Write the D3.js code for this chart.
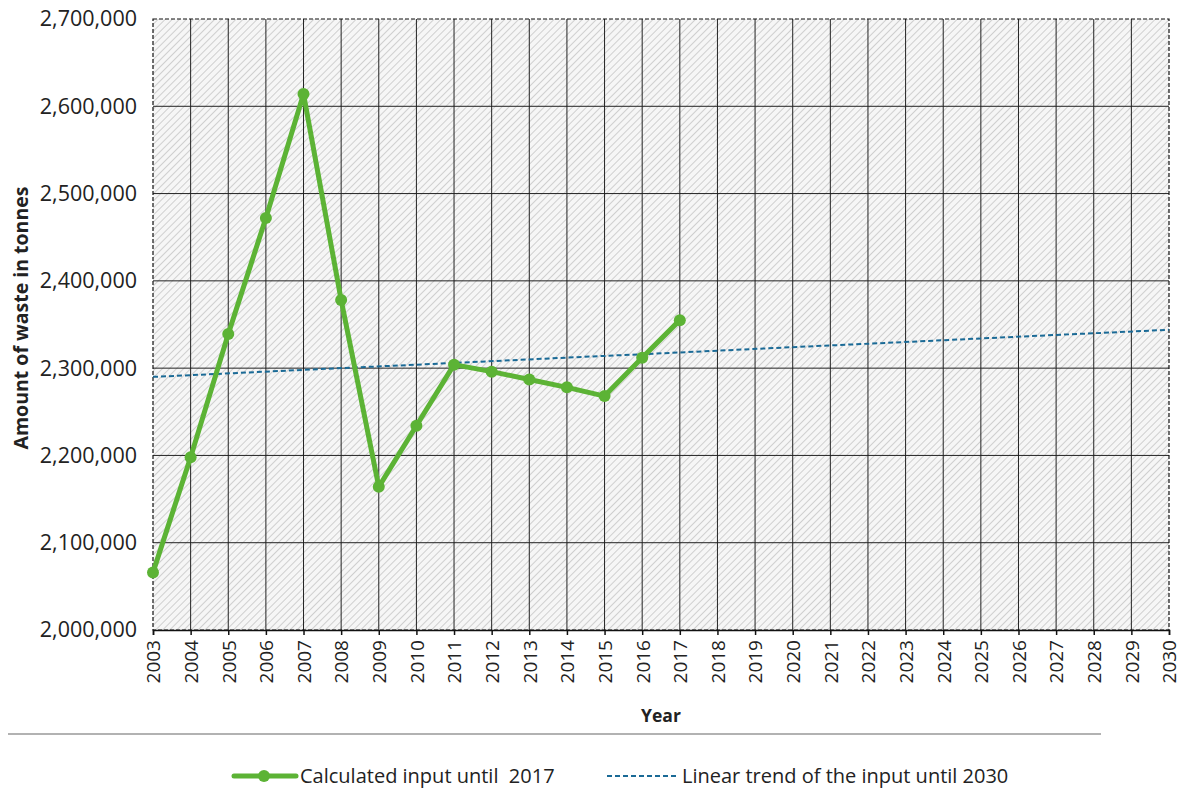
<!DOCTYPE html>
<html>
<head>
<meta charset="utf-8">
<script src="https://cdn.jsdelivr.net/npm/d3@7"></script>
<style>
  body { margin: 0; background: #fff; }
  text { font-family: "Open Sans", "Noto Sans", sans-serif; fill: #222; white-space: pre; }
</style>
</head>
<body>
<svg id="chart" width="1183" height="789"></svg>
<script>
// ---- DATA ----
const years = d3.range(2003, 2031);
const inputYears = [2003, 2004, 2005, 2006, 2007, 2008, 2009, 2010, 2011, 2012, 2013, 2014, 2015, 2016, 2017];
const inputValues = [2066000, 2198000, 2339000, 2472000, 2614000, 2378000, 2164000, 2234000, 2304000, 2296000, 2287000, 2278000, 2268000, 2312000, 2355000];
const trendYears = [2003, 2030];
const trendValues = [2290000, 2344000];
const yTicks = [2000000, 2100000, 2200000, 2300000, 2400000, 2500000, 2600000, 2700000];
const legendLabels = ['Calculated input until  2017', 'Linear trend of the input until 2030'];

const svg = d3.select('#chart');
const L = 153, R = 1169, T = 19, B = 630;

const x = d3.scaleLinear().domain([2003, 2030]).range([L, R]);
const y = d3.scaleLinear().domain([2000000, 2700000]).range([B, T]);

// hatch pattern
const defs = svg.append('defs');
const pat = defs.append('pattern')
  .attr('id', 'hatch').attr('patternUnits', 'userSpaceOnUse')
  .attr('width', 5).attr('height', 5)
  .attr('patternTransform', 'rotate(45)');
pat.append('rect').attr('width', 5).attr('height', 5).attr('fill', '#f6f6f6');
pat.append('line').attr('x1', 0).attr('y1', 0).attr('x2', 0).attr('y2', 5)
  .attr('stroke', '#cfcfcf').attr('stroke-width', 2);

svg.append('rect').attr('x', L).attr('y', T).attr('width', R - L).attr('height', B - T)
  .attr('fill', 'url(#hatch)');

// grid
svg.append('g').selectAll('line').data(years.slice(1, -1)).join('line')
  .attr('x1', d => x(d)).attr('x2', d => x(d)).attr('y1', T).attr('y2', B)
  .attr('stroke', '#222').attr('stroke-width', 1);
svg.append('g').selectAll('line').data(yTicks.slice(1, -1)).join('line')
  .attr('x1', L).attr('x2', R).attr('y1', d => y(d)).attr('y2', d => y(d))
  .attr('stroke', '#222').attr('stroke-width', 1);

// dashed border
svg.append('rect').attr('x', L).attr('y', T).attr('width', R - L).attr('height', B - T)
  .attr('fill', 'none').attr('stroke', '#111').attr('stroke-width', 1.2)
  .attr('stroke-dasharray', '4,2');

// x axis
const xAxis = svg.append('g').attr('transform', `translate(0,${B})`)
  .call(d3.axisBottom(x).tickValues(years).tickFormat(d3.format('d')).tickSize(5).tickPadding(4));
xAxis.select('.domain').attr('stroke', '#111').attr('stroke-width', 1.5);
xAxis.selectAll('.tick line').attr('stroke', '#111').attr('stroke-width', 1.5);
xAxis.selectAll('.tick text')
  .attr('font-size', 19).attr('fill', '#222')
  .attr('transform', 'rotate(-90)')
  .attr('text-anchor', 'end').attr('dy', '0.36em').attr('x', -10).attr('y', 0);

// y axis
const yAxis = svg.append('g').attr('transform', `translate(${L},0)`)
  .call(d3.axisLeft(y).tickValues(yTicks).tickFormat(d3.format(',')).tickSize(0).tickPadding(16));
yAxis.select('.domain').remove();
yAxis.selectAll('.tick text').attr('font-size', 21.5).attr('fill', '#222');

// titles
svg.append('text').attr('transform', `translate(28,318) rotate(-90)`)
  .attr('text-anchor', 'middle').attr('font-size', 19.5).attr('font-weight', 'bold')
  .text('Amount of waste in tonnes');
svg.append('text').attr('x', 661).attr('y', 722).attr('text-anchor', 'middle')
  .attr('font-size', 17.5).attr('font-weight', 'bold').text('Year');

// separator
svg.append('line').attr('x1', 8).attr('x2', 1101).attr('y1', 734).attr('y2', 734)
  .attr('stroke', '#666').attr('stroke-width', 1.2);

// trend line
const trend = trendYears.map((d, i) => [d, trendValues[i]]);
svg.append('path').datum(trend)
  .attr('d', d3.line().x(d => x(d[0])).y(d => y(d[1])))
  .attr('fill', 'none').attr('stroke', '#1a6a96').attr('stroke-width', 2)
  .attr('stroke-dasharray', '5,3');

// input line
const green = '#5cb335';
const input = inputYears.map((d, i) => [d, inputValues[i]]);
svg.append('path').datum(input)
  .attr('d', d3.line().x(d => x(d[0])).y(d => y(d[1])))
  .attr('fill', 'none').attr('stroke', green).attr('stroke-width', 5)
  .attr('stroke-linejoin', 'round');
svg.append('g').selectAll('circle').data(input).join('circle')
  .attr('cx', d => x(d[0])).attr('cy', d => y(d[1])).attr('r', 6).attr('fill', green);

// legend
const lg = svg.append('g');
lg.append('line').attr('x1', 234).attr('x2', 296).attr('y1', 776).attr('y2', 776)
  .attr('stroke', green).attr('stroke-width', 5).attr('stroke-linecap', 'round');
lg.append('circle').attr('cx', 264).attr('cy', 776).attr('r', 6).attr('fill', green);
lg.append('text').attr('x', 300).attr('y', 783).attr('font-size', 20).text(legendLabels[0]);
lg.append('line').attr('x1', 607).attr('x2', 677).attr('y1', 776).attr('y2', 776)
  .attr('stroke', '#1a6a96').attr('stroke-width', 2).attr('stroke-dasharray', '5,3');
lg.append('text').attr('x', 682).attr('y', 783).attr('font-size', 20).text(legendLabels[1]);
</script>
</body>
</html>
